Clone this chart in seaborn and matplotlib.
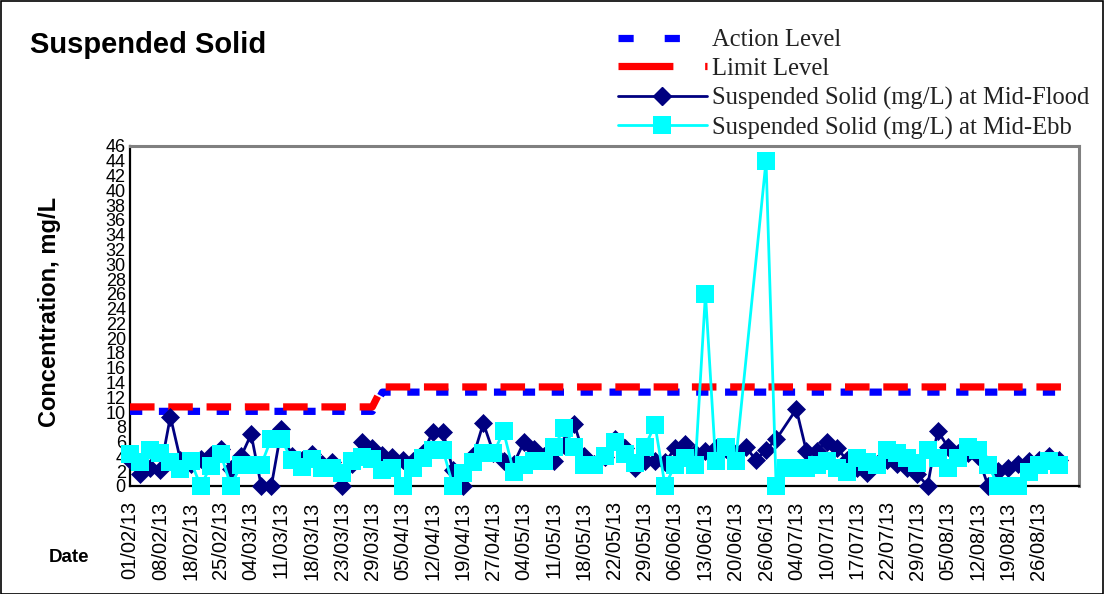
import numpy as np
import pandas as pd
import matplotlib
matplotlib.use('Agg')
import matplotlib.pyplot as plt
import seaborn as sns
from matplotlib.lines import Line2D
from matplotlib.patches import Rectangle

# ---------------- data ----------------
date_labels = ['01/02/13', '08/02/13', '18/02/13', '25/02/13', '04/03/13', '11/03/13',
               '18/03/13', '23/03/13', '29/03/13', '05/04/13', '12/04/13', '19/04/13',
               '27/04/13', '04/05/13', '11/05/13', '18/05/13', '22/05/13', '29/05/13',
               '06/06/13', '13/06/13', '20/06/13', '26/06/13', '04/07/13', '10/07/13',
               '17/07/13', '22/07/13', '29/07/13', '05/08/13', '12/08/13', '19/08/13',
               '26/08/13']

mid_flood = [3.5, 1.6, 2.5, 2.1, 9.4, 3.5, 3.0, 3.7, 4.2, 5.0,
             2.3, 4.0, 7.0, 0.0, 0.0, 7.7, 4.1, 3.5, 4.3, 3.0,
             3.2, 0.0, 3.0, 5.9, 5.2, 4.2, 3.9, 3.5, 3.4, 4.5,
             7.3, 7.3, 2.1, 0.0, 4.0, 8.5, 4.5, 3.4, 3.0, 5.9,
             5.0, 4.0, 3.4, 5.5, 8.4, 4.0, 3.0, 3.9, 6.4, 5.2,
             2.5, 3.4, 3.4, 3.2, 5.1, 5.7, 4.5, 4.7, 5.2, 5.0,
             4.5, 5.3, 3.5, 4.9, 6.3, np.nan, 10.4, 4.7, 4.8, 5.9,
             5.2, 3.5, 2.5, 1.7, 3.0, 3.5, 3.0, 2.4, 1.6, 0.0,
             7.5, 5.3, 4.5, 4.5, 4.0, 0.0, 2.0, 2.5, 3.0, 3.4,
             3.5, 4.0, 3.5]

mid_ebb = [4.3, 3.2, 4.9, 4.4, 3.2, 2.3, 3.4, 0.0, 2.7, 4.3,
           0.0, 2.9, 2.9, 2.9, 6.4, 6.4, 3.5, 2.6, 3.6, 2.5,
           2.4, 1.8, 3.4, 3.9, 3.7, 2.1, 2.5, 0.0, 2.5, 3.8,
           4.9, 4.9, 0.0, 1.7, 3.3, 4.4, 4.4, 7.4, 1.9, 2.9,
           3.4, 3.4, 5.3, 7.8, 5.3, 2.9, 2.9, 4.0, 5.9, 4.3,
           3.1, 5.3, 8.3, 0.0, 2.9, 3.8, 2.9, 26.0, 3.4, 5.3,
           3.4, np.nan, np.nan, 44.0, 0.0, 2.5, 2.5, 2.5, 2.9, 3.4,
           2.5, 1.9, 3.8, 3.2, 2.9, 4.9, 4.4, 3.8, 3.1, 4.9,
           3.8, 2.5, 3.8, 5.3, 4.9, 2.9, 0.0, 0.0, 0.0, 1.9,
           2.9, 3.4, 2.9]

action_level = [10.1] * 25 + [12.7] * 69
limit_level = [10.7] * 25 + [13.4] * 69

n_categories = 95
# ---------------------------------------

sns.set_theme(style='white')
plt.rcParams['font.family'] = ['Liberation Sans', 'DejaVu Sans']
plt.rcParams['text.color'] = 'black'
plt.rcParams['xtick.color'] = 'black'
plt.rcParams['ytick.color'] = 'black'

W, H = 1104, 594
fig = plt.figure(figsize=(W / 100, H / 100), dpi=100)
fig.patch.set_facecolor('white')
ax = fig.add_axes([130 / W, 1 - 486 / H, (1079 - 130) / W, (486 - 146) / H])
ax.set_facecolor('white')

lvl = pd.DataFrame({'i': np.arange(len(action_level)), 'action': action_level,
                    'limit': limit_level})
df = pd.DataFrame({'i': np.arange(len(mid_flood)), 'flood': mid_flood, 'ebb': mid_ebb})
flood_df = df.dropna(subset=['flood'])
ebb_df = df.dropna(subset=['ebb'])

sns.lineplot(data=lvl, x='i', y='action', ax=ax, color='#0000FF', linewidth=5.2,
             linestyle=(0, (1.7, 2.3)), errorbar=None, zorder=3)
sns.lineplot(data=lvl, x='i', y='limit', ax=ax, color='#FF0000', linewidth=5.2,
             linestyle=(0, (3.4, 1.9)), errorbar=None, zorder=3)
sns.lineplot(data=flood_df, x='i', y='flood', ax=ax, color='#000080', linewidth=2.0,
             marker='D', markersize=8.8, markeredgecolor='#000080', markeredgewidth=0.5,
             errorbar=None, zorder=4, clip_on=False)
sns.lineplot(data=ebb_df, x='i', y='ebb', ax=ax, color='#00FFFF', linewidth=2.0,
             marker='s', markersize=13, markeredgecolor='#00FFFF', markeredgewidth=0,
             errorbar=None, zorder=5, clip_on=False)

ax.set_xlim(0, n_categories - 1)
ax.set_ylim(0, 46)
ax.set_yticks(np.arange(0, 47, 2))
ax.set_yticklabels([str(v) for v in range(0, 47, 2)], fontsize=13, color='black')
ticks = np.arange(n_categories)
ticklabels = [date_labels[k // 3] if (k % 3 == 0 and k // 3 < len(date_labels)) else ''
              for k in ticks]
ax.set_xticks(ticks)
ax.set_xticklabels(ticklabels, rotation=90, fontsize=14.5, va='top', ha='center',
                   color='black')
ax.tick_params(axis='x', direction='in', length=6, width=1, color='black', pad=11)
ax.tick_params(axis='y', direction='in', length=5, width=1, color='black', pad=3)
ax.set_xlabel('')
ax.set_ylabel('')

for s in ['left', 'bottom']:
    ax.spines[s].set_color('black')
    ax.spines[s].set_linewidth(1.6)
for s in ['top', 'right']:
    ax.spines[s].set_color('#808080')
    ax.spines[s].set_linewidth(2.2)
ax.grid(False)

fig.text(30 / W, 1 - 45 / H, 'Suspended Solid', fontsize=21, fontweight='bold',
         va='center', ha='left', color='black')
fig.text(50 / W, 1 - 312 / H, 'Concentration, mg/L', fontsize=17, fontweight='bold',
         rotation=90, va='center', ha='center', color='black')
fig.text(49 / W, 1 - 557 / H, 'Date', fontsize=13.5, fontweight='bold',
         va='center', ha='left', color='black')

handles = [
    Line2D([], [], color='#0000FF', lw=5.2, dashes=(2.1, 4.3)),
    Line2D([], [], color='#FF0000', lw=5.2, dashes=(7.6, 4.4)),
    Line2D([], [], color='#000080', lw=2.0, marker='D', markersize=8.8,
           markeredgecolor='#000080'),
    Line2D([], [], color='#00FFFF', lw=2.0, marker='s', markersize=13,
           markeredgewidth=0),
]
labels = ['Action Level', 'Limit Level', 'Suspended Solid (mg/L) at Mid-Flood',
          'Suspended Solid (mg/L) at Mid-Ebb']
fig.legend(handles, labels, loc='upper left', bbox_to_anchor=(618 / W, 1 - 29 / H),
           frameon=False, prop={'family': 'Liberation Serif', 'size': 17.7},
           handlelength=3.6, handletextpad=0.22, labelspacing=0.27, borderpad=0,
           borderaxespad=0, labelcolor='#222222')

fig.patches.append(Rectangle((0.5 / W, 0.5 / H), 1 - 1.5 / W, 1 - 1.5 / H,
                             transform=fig.transFigure, fill=False,
                             edgecolor='black', lw=1.2))

fig.savefig('out.png', dpi=100)
